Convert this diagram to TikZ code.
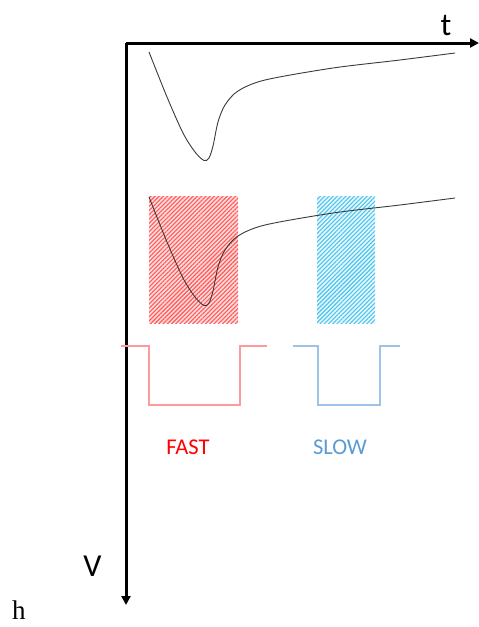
\documentclass[tikz,border=0pt]{standalone}
\usepackage{fontspec}
\newfontfamily\carlitofont{Carlito}
\newfontfamily\timesfont{Liberation Serif}
\usetikzlibrary{patterns.meta,arrows.meta}
\definecolor{fastred}{HTML}{FF0000}
\definecolor{slowblue}{HTML}{5B9BD5}
\definecolor{hatchblue}{HTML}{4CC4EE}
\definecolor{pulsered}{HTML}{FF9A9A}
\definecolor{pulseblue}{HTML}{9DC3E6}
\definecolor{curvegrey}{HTML}{3A3A3A}
\tikzset{
  axis/.style={line width=3pt,-{Triangle[length=9pt,width=9pt]}},
  trace/.style={curvegrey,line width=0.9pt},
  pulse/.style={line width=1.3pt},
  lbl/.style={font=\carlitofont\fontsize{32}{36}\selectfont,anchor=base,inner sep=0pt},
  tag/.style={font=\carlitofont\fontsize{22.5}{26}\selectfont,anchor=base,inner sep=0pt},
  hatch/.style={pattern={Lines[angle=45,distance=3pt,line width=1.1pt]}},
}
\begin{document}
\begin{tikzpicture}[x=1pt,y=-1pt]
\useasboundingbox (0,0) rectangle (479,627);
% hatched windows
\fill[red!14] (149,196) rectangle (238,323);
\fill[hatch,pattern color=red!65] (149,196) rectangle (238,323);
\fill[cyan!10] (317,196) rectangle (375,323);
\fill[hatch,pattern color=hatchblue] (317,196) rectangle (375,323);
% axes
\coordinate (o) at (126,43);
\coordinate (tx) at (479,43);
\coordinate (vy) at (126,605);
\draw[axis] (o) -- (tx);
\draw[axis] (o) -- (vy);
\node[lbl] (t) at (446,35) {t};
\node[lbl] (V) at (92.5,576) {V};
\node[font=\timesfont\fontsize{27}{30}\selectfont,anchor=base,inner sep=0pt] (h) at (19,619) {h};
% traces
\foreach \dy in {0,145}{
\begin{scope}[yshift=-\dy pt]
\draw[trace] plot[smooth,tension=0.5] coordinates {(149,52) (167,97) (183,133) (195,152) (204,160.5) (209,158) (213,146) (218,122) (225,105) (238,91) (265,80) (333,68) (400,60) (455,53)};
\end{scope}}
% pulses
\draw[pulse,pulsered] (121,346) -- (149,346) -- (149,405) -- (240,405) -- (240,346) -- (267,346);
\draw[pulse,pulseblue] (293,346) -- (318,346) -- (318,405) -- (380,405) -- (380,346) -- (400,346);
\node[tag,text=fastred] (fast) at (188,454) {FAST};
\node[tag,text=slowblue] (slow) at (340,454) {SLOW};
\end{tikzpicture}
\end{document}
